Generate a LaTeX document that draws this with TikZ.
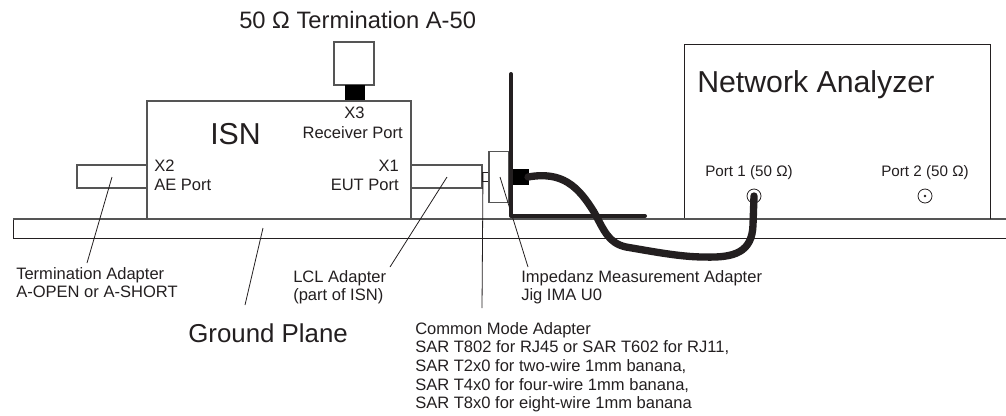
\documentclass[tikz,border=0pt]{standalone}
\usepackage{fontspec}
\setmainfont{Liberation Sans}
\definecolor{ink}{HTML}{231F20}
\definecolor{edge}{HTML}{555555}
\tikzset{
  boxs/.style={draw=edge,line width=0.8pt,fill=white},
  thin line/.style={draw=ink,line width=0.6pt},
  heavy/.style={draw=ink,line width=3.2pt,line cap=round},
  lbl/.style={inner sep=0pt,align=left,anchor=west,font=\fontsize{12.4}{14}\selectfont,text=ink},
  lblc/.style={lbl,align=center,anchor=center},
  big/.style={inner sep=0pt,anchor=west,text=ink,font=\fontsize{22.7}{26}\selectfont},
  mid/.style={inner sep=0pt,anchor=west,text=ink,font=\fontsize{19.4}{22}\selectfont}
}
\begin{document}
\begin{tikzpicture}[x=0.75pt,y=-0.75pt]
\useasboundingbox (0,0) rectangle (1006,415);
% ground plane
\draw[thin line] (1006,238) -- (13,238) -- (13,219);
\draw[draw=edge,line width=1.1pt] (13,219) -- (1006,219);
% termination
\node[boxs,minimum width=30pt,minimum height=32.25pt,inner sep=0pt] (term) at (354,63.5) {};
\node[fill=black,minimum width=15pt,minimum height=12pt,inner sep=0pt] (x3c) at (355,93) {};
% ISN
\node[boxs,minimum width=198pt,minimum height=88.5pt,inner sep=0pt] (isn) at (279,160) {};
\node[boxs,minimum width=52.5pt,minimum height=17.25pt,inner sep=0pt] (tadapt) at (112,176.5) {};
\node[boxs,minimum width=53.25pt,minimum height=17.25pt,inner sep=0pt] (lcl) at (446.5,176.5) {};
\node[boxs,minimum width=5.25pt,minimum height=6.75pt,inner sep=0pt,draw=ink,line width=0.5pt] (plug) at (485.5,176.5) {};
\node[boxs,minimum width=15pt,minimum height=38.5pt,inner sep=0pt] (cma) at (499,177) {};
\draw[draw=edge,line width=1.1pt] (147,219) -- (411,219);
% network analyzer
\draw[draw=ink,line width=0.7pt] (684,219) -- (684,44) -- (990,44) -- (990,219);
\draw[draw=edge,line width=1.4pt] (684,219) coordinate (nal) -- (990,219) coordinate (nar);
\node[draw=ink,line width=0.6pt,circle,minimum size=10.5pt,inner sep=0pt] (p1) at (754,196) {};
\node[draw=ink,line width=0.6pt,circle,minimum size=10.5pt,inner sep=0pt] (p2) at (925,196) {};
\node[fill=ink,circle,minimum size=2pt,inner sep=0pt] (p2d) at (925,196) {};
% jig
\coordinate (jt) at (511,74);
\coordinate (jc) at (511,216);
\coordinate (je) at (645,216);
\draw[heavy,line join=round,line width=3pt] (jt) -- (jc) -- (je);
\node[fill=black,minimum width=12pt,minimum height=12pt,inner sep=0pt] (jc1) at (521,177) {};
% cable
\coordinate (cs) at (528,177);
\draw[heavy,line width=5.5pt] (cs) .. controls (562,171) and (578,186) .. (594,212)
  .. controls (604,230) and (608,243) .. (626,247)
  .. controls (650,251) and (680,257) .. (704,257)
  .. controls (735,258) and (752,252) .. (753,225)
  -- (p1.center);
% leaders
\coordinate (l1a) at (112,177); \coordinate (l1b) at (87,263);
\coordinate (l2a) at (263,228); \coordinate (l2b) at (245,305);
\coordinate (l3a) at (447,177); \coordinate (l3b) at (390,267);
\coordinate (l4a) at (483,173); \coordinate (l4b) at (482,308);
\coordinate (l5a) at (500,177); \coordinate (l5b) at (528,267);
\draw[thin line] (l1a) -- (l1b);
\draw[thin line] (l2a) -- (l2b);
\draw[thin line] (l3a) -- (l3b);
\draw[thin line] (l4a) -- (l4b);
\draw[thin line] (l5a) -- (l5b);
% texts
\node[big,font=\fontsize{17.8}{20}\selectfont] (t0) at (239,20) {50 Ω Termination A-50};
\node[big] (tisn) at (210,134) {ISN};
\node[big] (tna) at (697,85) {Network Analyzer};
\node[lblc] (tx3) at (354.5,113) {X3};
\node[lbl,anchor=east] (trp) at (403,133) {Receiver Port};
\node[lbl] (tx2) at (154,166) {X2};
\node[lbl] (tae) at (154,185) {AE Port};
\node[lbl,anchor=east] (tx1) at (399,166) {X1};
\node[lbl,anchor=east] (teu) at (399,185) {EUT Port};
\node[lblc,font=\fontsize{11.4}{13}\selectfont] (tp1) at (749,172.5) {Port 1 (50 Ω)};
\node[lblc,font=\fontsize{11.4}{13}\selectfont] (tp2) at (925,172.5) {Port 2 (50 Ω)};
\node[lbl,anchor=north west] (tta) at (16,267) {Termination Adapter\\A-OPEN or A-SHORT};
\node[lbl,anchor=north west] (tlc) at (293,270) {LCL Adapter\\(part of ISN)};
\node[lbl,anchor=north west] (tim) at (521,270) {Impedanz Measurement Adapter\\Jig IMA U0};
\node[mid] (tgp) at (188,333) {Ground Plane};
\node[lbl,anchor=north west] (tcm) at (415,322) {Common Mode Adapter\\SAR T802 for RJ45 or SAR T602 for RJ11,\\SAR T2x0 for two-wire 1mm banana,\\SAR T4x0 for four-wire 1mm banana,\\SAR T8x0 for eight-wire 1mm banana};
\end{tikzpicture}
\end{document}
